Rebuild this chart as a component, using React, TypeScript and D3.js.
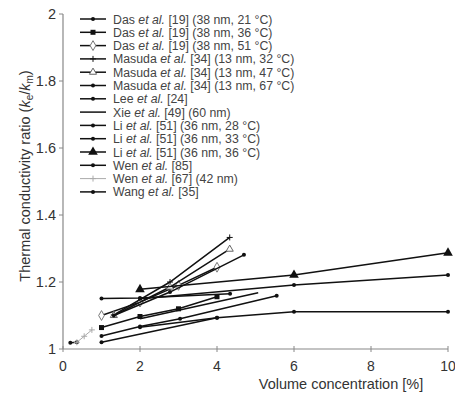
import React from "react";
import * as d3 from "d3";

type Pt = [number, number];

// legend labels: [author, reference/details]
const seriesNames: [string, string][] = [
  ["Das", " [19] (38 nm, 21 °C)"],
  ["Das", " [19] (38 nm, 36 °C)"],
  ["Das", " [19] (38 nm, 51 °C)"],
  ["Masuda", " [34] (13 nm, 32 °C)"],
  ["Masuda", " [34] (13 nm, 47 °C)"],
  ["Masuda", " [34] (13 nm, 67 °C)"],
  ["Lee", " [24]"],
  ["Xie", " [49] (60 nm)"],
  ["Li", " [51] (36 nm, 28 °C)"],
  ["Li", " [51] (36 nm, 33 °C)"],
  ["Li", " [51] (36 nm, 36 °C)"],
  ["Wen", " [85]"],
  ["Wen", " [67] (42 nm)"],
  ["Wang", " [35]"],
];

const markers = ["dot", "square", "diamondOpen", "cross", "triangleOpen", "dot", "dot", "none", "dot", "dot", "triangle", "dot", "cross", "dot"];

const das21: Pt[] = [[1, 1.02], [4, 1.093]];
const das36: Pt[] = [[1, 1.064], [2, 1.097], [3, 1.12], [4, 1.156]];
const das51: Pt[] = [[1, 1.1], [2, 1.14], [3, 1.19], [4, 1.244]];
const masuda32: Pt[] = [[1.32, 1.102], [2.78, 1.2], [4.33, 1.333]];
const masuda47: Pt[] = [[1.32, 1.1], [2.78, 1.185], [4.33, 1.298]];
const masuda67: Pt[] = [[1.32, 1.1], [2.78, 1.17], [4.7, 1.281]];
const lee: Pt[] = [[1, 1.039], [2, 1.067], [3.04, 1.09], [5.55, 1.159]];
const xie: Pt[] = [[2, 1.09], [5.07, 1.168]];
const li28: Pt[] = [[2, 1.065], [4, 1.093], [6, 1.111], [10, 1.111]];
const li33: Pt[] = [[2, 1.15], [6, 1.191], [10, 1.221]];
const li36: Pt[] = [[2, 1.178], [6, 1.221], [10, 1.287]];
const wen85: Pt[] = [[0.19, 1.019], [0.36, 1.02]];
const wen67: Pt[] = [[0.36, 1.02], [0.55, 1.038], [0.75, 1.057]];
const wang: Pt[] = [[1, 1.151], [2, 1.152], [4.34, 1.165]];

const allSeries = [das21, das36, das51, masuda32, masuda47, masuda67, lee, xie, li28, li33, li36, wen85, wen67, wang];

const xTicks = [0, 2, 4, 6, 8, 10];
const yTicks = [1, 1.2, 1.4, 1.6, 1.8, 2];

function Marker({ kind, x, y, color }: { kind: string; x: number; y: number; color: string }) {
  const sym = d3.symbol();
  if (kind === "none") return null;
  if (kind === "dot") return <circle cx={x} cy={y} r={2} fill={color} />;
  if (kind === "square") return <rect x={x - 2.5} y={y - 2.5} width={5} height={5} fill={color} />;
  if (kind === "diamondOpen")
    return <path d={sym.type(d3.symbolDiamond).size(28)()!} transform={`translate(${x},${y})`} fill="#fff" stroke="#777" strokeWidth={1} />;
  if (kind === "cross")
    return <path d={`M${x - 3},${y}H${x + 3}M${x},${y - 3}V${y + 3}`} stroke={color} strokeWidth={1} />;
  if (kind === "triangleOpen")
    return <path d={sym.type(d3.symbolTriangle).size(22)()!} transform={`translate(${x},${y})`} fill="#fff" stroke="#666" strokeWidth={1} />;
  if (kind === "triangle")
    return <path d={sym.type(d3.symbolTriangle).size(40)()!} transform={`translate(${x},${y})`} fill={color} />;
  return null;
}

export default function App() {
  const W = 455, H = 396;
  const x = d3.scaleLinear().domain([0, 10]).range([63, 448]);
  const y = d3.scaleLinear().domain([1, 2]).range([349, 14]);
  const line = d3.line<Pt>().x(d => x(d[0])).y(d => y(d[1]));
  const font = "Liberation Sans, Arial, sans-serif";
  const axisColor = "#888";

  return (
    <svg width={W} height={H} style={{ position: "absolute", left: 0, top: 0, background: "#fff" }} fontFamily={font}>
      {/* axes */}
      <line x1={x(0)} x2={x(0)} y1={y(2)} y2={y(1)} stroke={axisColor} strokeWidth={1.2} />
      <line x1={x(0)} x2={x(10)} y1={y(1)} y2={y(1)} stroke={axisColor} strokeWidth={1.2} />
      {yTicks.map(t => (
        <g key={"y" + t}>
          <line x1={x(0) - 4} x2={x(0)} y1={y(t)} y2={y(t)} stroke={axisColor} />
          <text x={x(0) - 7} y={y(t)} dy="0.36em" textAnchor="end" fontSize={14.5} fill="#333">{t}</text>
        </g>
      ))}
      {xTicks.map(t => (
        <g key={"x" + t}>
          <line x1={x(t)} x2={x(t)} y1={y(1) - 3} y2={y(1) + 3} stroke={axisColor} />
          <text x={x(t)} y={y(1) + 22} textAnchor="middle" fontSize={14} fill="#333">{t}</text>
        </g>
      ))}
      <text x={341} y={389} textAnchor="middle" fontSize={14.5} fill="#333">Volume concentration [%]</text>
      <text transform="translate(30,176) rotate(-90)" textAnchor="middle" fontSize={14.5} fill="#333">
        Thermal conductivity ratio (<tspan fontStyle="italic">k</tspan>
        <tspan fontSize={10} dy={3}>e</tspan>
        <tspan dy={-3}>/</tspan>
        <tspan fontStyle="italic">k</tspan>
        <tspan fontSize={10} dy={3}>m</tspan>
        <tspan dy={-3}>)</tspan>
      </text>

      {/* series */}
      {allSeries.map((s, i) => {
        const light = i === 12;
        const color = light ? "#aaa" : "#111";
        return (
          <g key={"s" + i}>
            <path d={line(s)!} fill="none" stroke={color} strokeWidth={light ? 1 : 1.5} />
            {s.map((p, j) => (
              <Marker key={j} kind={markers[i]} x={x(p[0])} y={y(p[1])} color={color} />
            ))}
          </g>
        );
      })}

      {/* legend */}
      {seriesNames.map((n, i) => {
        const ly = 19 + i * 13.3;
        const light = i === 12;
        const color = light ? "#aaa" : "#111";
        return (
          <g key={"l" + i}>
            <line x1={80} x2={106} y1={ly} y2={ly} stroke={color} strokeWidth={light ? 1 : 1.5} />
            <Marker kind={markers[i]} x={93} y={ly} color={color} />
            <text x={113} y={ly + 4.5} fontSize={12.3} fill="#444">
              {n[0]} <tspan fontStyle="italic">et al.</tspan>{n[1]}
            </text>
          </g>
        );
      })}
    </svg>
  );
}
